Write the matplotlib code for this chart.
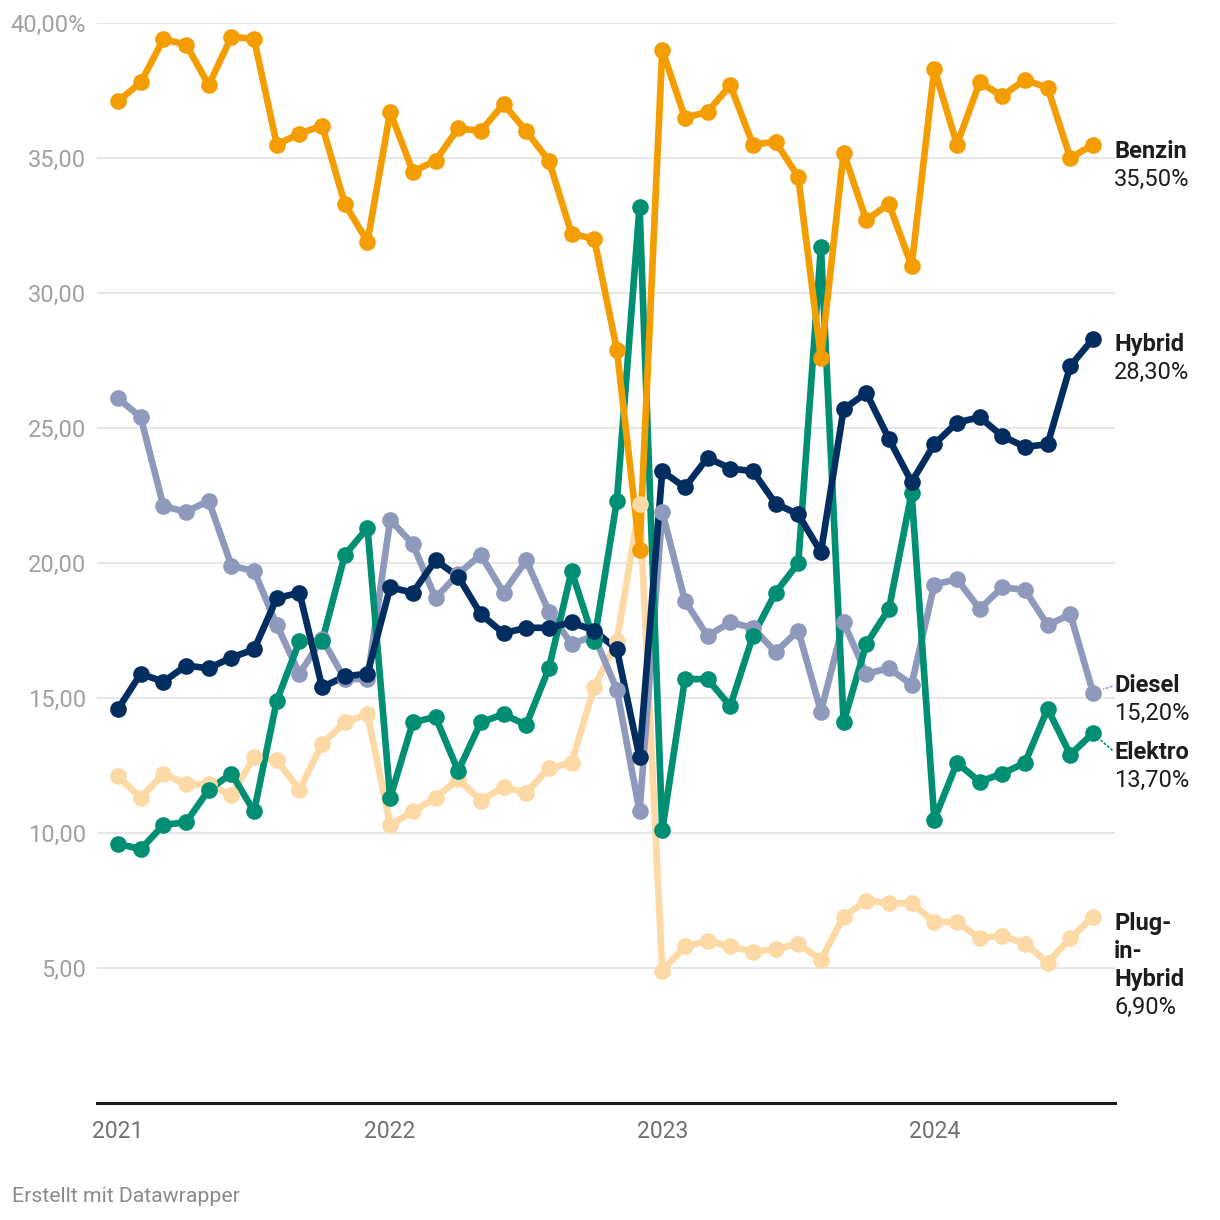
import matplotlib.pyplot as plt

# Neuzulassungen nach Antriebsart, Anteil in %, monatlich Jan 2021 - Aug 2024
benzin = [37.1, 37.8, 39.4, 39.2, 37.7, 39.5, 39.4, 35.5, 35.9, 36.2, 33.3, 31.9,
          36.7, 34.5, 34.9, 36.1, 36.0, 37.0, 36.0, 34.9, 32.2, 32.0, 27.9, 20.5,
          39.0, 36.5, 36.7, 37.7, 35.5, 35.6, 34.3, 27.6, 35.2, 32.7, 33.3, 31.0,
          38.3, 35.5, 37.8, 37.3, 37.9, 37.6, 35.0, 35.5]
hybrid = [14.6, 15.9, 15.6, 16.2, 16.1, 16.5, 16.8, 18.7, 18.9, 15.4, 15.8, 15.9,
          19.1, 18.9, 20.1, 19.5, 18.1, 17.4, 17.6, 17.6, 17.8, 17.5, 16.8, 12.8,
          23.4, 22.8, 23.9, 23.5, 23.4, 22.2, 21.8, 20.4, 25.7, 26.3, 24.6, 23.0,
          24.4, 25.2, 25.4, 24.7, 24.3, 24.4, 27.3, 28.3]
diesel = [26.1, 25.4, 22.1, 21.9, 22.3, 19.9, 19.7, 17.7, 15.9, 17.2, 15.7, 15.7,
          21.6, 20.7, 18.7, 19.6, 20.3, 18.9, 20.1, 18.2, 17.0, 17.3, 15.3, 10.8,
          21.9, 18.6, 17.3, 17.8, 17.6, 16.7, 17.5, 14.5, 17.8, 15.9, 16.1, 15.5,
          19.2, 19.4, 18.3, 19.1, 19.0, 17.7, 18.1, 15.2]
elektro = [9.6, 9.4, 10.3, 10.4, 11.6, 12.2, 10.8, 14.9, 17.1, 17.1, 20.3, 21.3,
           11.3, 14.1, 14.3, 12.3, 14.1, 14.4, 14.0, 16.1, 19.7, 17.1, 22.3, 33.2,
           10.1, 15.7, 15.7, 14.7, 17.3, 18.9, 20.0, 31.7, 14.1, 17.0, 18.3, 22.6,
           10.5, 12.6, 11.9, 12.2, 12.6, 14.6, 12.9, 13.7]
plugin = [12.1, 11.3, 12.2, 11.8, 11.8, 11.4, 12.8, 12.7, 11.6, 13.3, 14.1, 14.4,
          10.3, 10.8, 11.3, 12.0, 11.2, 11.7, 11.5, 12.4, 12.6, 15.4, 17.1, 22.2,
          4.9, 5.8, 6.0, 5.8, 5.6, 5.7, 5.9, 5.3, 6.9, 7.5, 7.4, 7.4,
          6.7, 6.7, 6.1, 6.2, 5.9, 5.2, 6.1, 6.9]

years = ['2021', '2022', '2023', '2024']
yticks = [5, 10, 15, 20, 25, 30, 35, 40]
ytick_labels = ['5,00', '10,00', '15,00', '20,00', '25,00', '30,00', '35,00', '40,00%']

# Reihenfolge = Zeichenreihenfolge (unten nach oben)
series = [
    ('Plug-in-Hybrid', plugin, '#FDD9A6', ['Plug-', 'in-', 'Hybrid'], 7),
    ('Diesel', diesel, '#8F99BB', ['Diesel'], -7),
    ('Elektro', elektro, '#008F73', ['Elektro'], 19),
    ('Hybrid', hybrid, '#022D61', ['Hybrid'], 6),
    ('Benzin', benzin, '#F49D00', ['Benzin'], 7),
]

plt.rcParams['font.family'] = ['Roboto', 'DejaVu Sans']

fig = plt.figure(figsize=(12.2, 12.2), dpi=100)
ax = fig.add_axes([97 / 1220, 117 / 1220, 1018 / 1220, 1080 / 1220])

x = list(range(len(benzin)))

# Linien zuerst, Punkte darueber
for i, (name, vals, col, _, _) in enumerate(series):
    ax.plot(x, vals, color=col, lw=4.8, solid_capstyle='round',
            solid_joinstyle='round', zorder=3 + i, clip_on=False)
for i, (name, vals, col, _, _) in enumerate(series):
    ax.plot(x, vals, 'o', color=col, ms=12, mew=0, zorder=10 + i, clip_on=False)

ax.set_xlim(-0.93, 43.97)
ax.set_ylim(0, 40)

# Gitter
for y in yticks:
    ax.axhline(y, color='#e2e2e2', lw=1.2, zorder=1)

for s in ['top', 'right', 'left']:
    ax.spines[s].set_visible(False)
ax.spines['bottom'].set_color('#1a1a1a')
ax.spines['bottom'].set_linewidth(2.2)
ax.spines['bottom'].set_zorder(20)

ax.set_yticks(yticks)
ax.set_yticklabels(ytick_labels)
ax.tick_params(axis='y', length=0, pad=8, labelsize=17, labelcolor='#a0a0a0')
ax.set_xticks([0, 12, 24, 36])
ax.set_xticklabels(years)
ax.tick_params(axis='x', length=0, pad=12, labelsize=16.5, labelcolor='#707070')

# Beschriftungen rechts
last = len(benzin) - 1
for name, vals, col, lines, dy in series:
    v = vals[last]
    k = 0
    for ln in lines:
        ax.annotate(ln, xy=(last, v), xytext=(21, -dy - 28 * k),
                    textcoords='offset pixels', ha='left', va='center',
                    fontsize=17, fontweight='bold', color='#1d1d1d',
                    annotation_clip=False)
        k += 1
    ax.annotate(f'{v:.2f}%'.replace('.', ','), xy=(last, v),
                xytext=(21, -dy - 28 * k), textcoords='offset pixels',
                ha='left', va='center', fontsize=17, color='#1d1d1d',
                annotation_clip=False)
    if name in ('Diesel', 'Elektro'):
        ax.annotate('', xy=(last, v), xytext=(19, -dy * 0.9),
                    textcoords='offset pixels',
                    arrowprops=dict(arrowstyle='-', color=col, lw=1.2,
                                    linestyle=':', shrinkA=0, shrinkB=8),
                    annotation_clip=False)

fig.text(12 / 1220, 1 - 1197 / 1220, 'Erstellt mit Datawrapper', ha='left',
         va='center', fontsize=15.3, color='#8a8a8a')

plt.savefig('out.png', dpi=100)
